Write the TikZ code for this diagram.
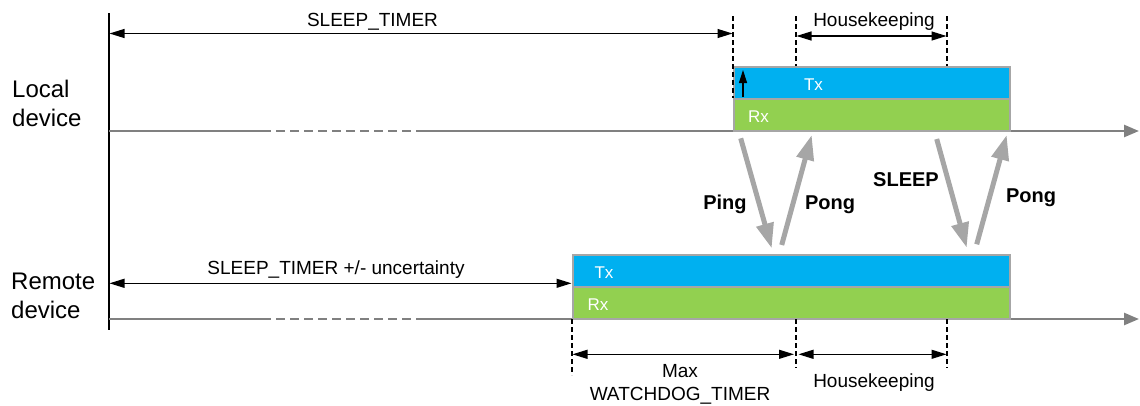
\documentclass[tikz,border=0pt]{standalone}
\usepackage{fontspec}
\setmainfont{Liberation Sans}
\usetikzlibrary{arrows.meta}
\definecolor{txblue}{HTML}{00B0F0}
\definecolor{rxgreen}{HTML}{92D050}
\definecolor{boxgray}{HTML}{A6A6A6}
\definecolor{axisgray}{HTML}{808080}
\definecolor{msggray}{HTML}{A6A6A6}
\begin{document}
\begin{tikzpicture}[x=1pt,y=-1pt,
  dimarrow/.style={black, line width=1.2pt, {Triangle[length=15pt,width=9pt]}-{Triangle[length=15pt,width=9pt]}},
  uparrow/.style={black, line width=1.2pt, -{Triangle[length=13pt,width=8pt]}},
  guide/.style={black, line width=1.6pt, dash pattern=on 5pt off 3pt},
  axisline/.style={axisgray, line width=2.5pt},
  axisdash/.style={axisgray, line width=2.5pt, dash pattern=on 9pt off 5pt},
  axisend/.style={axisgray, line width=2.5pt, -{Triangle[length=15pt,width=12pt]}},
  msg/.style={msggray, line width=5pt, -{Triangle[length=25pt,width=17pt]}},
  lbl/.style={inner sep=0pt, anchor=base, font=\fontsize{19}{22}\selectfont},
  dev/.style={inner sep=0pt, anchor=base west, font=\fontsize{24}{28}\selectfont},
  msglbl/.style={inner sep=0pt, anchor=base, font=\bfseries\fontsize{20}{24}\selectfont},
  boxlbl/.style={inner sep=0pt, anchor=base, text=white, font=\fontsize{17}{20}\selectfont},
  slot/.style={draw=boxgray, line width=1.5pt, anchor=north west, inner sep=0pt, minimum height=32pt}
]
\useasboundingbox (0,0) rectangle (1140,405);

% device labels
\node[dev] (loc1) at (12,97.7) {Local};
\node[dev] (loc2) at (12,126.7) {device};
\node[dev] (rem1) at (11,289.3) {Remote};
\node[dev] (rem2) at (11,318.3) {device};

% vertical reference line
\coordinate (vtop) at (109,13);
\coordinate (vbot) at (109,330);
\draw[black, line width=2pt] (vtop) -- (vbot);

% local axis
\coordinate (la0) at (109,131);
\coordinate (la1) at (262,131);
\coordinate (la2) at (420,131);
\coordinate (la3) at (1139,131);
\draw[axisline] (la0) -- (la1);
\draw[axisdash] (la1) -- (la2);
\draw[axisend] (la2) -- (la3);

% remote axis
\coordinate (ra0) at (109,319);
\coordinate (ra1) at (262,319);
\coordinate (ra2) at (420,319);
\coordinate (ra3) at (1139,319);
\draw[axisline] (ra0) -- (ra1);
\draw[axisdash] (ra1) -- (ra2);
\draw[axisend] (ra2) -- (ra3);

% local boxes
\node[slot, fill=txblue, minimum width=276pt] (ltx) at (733,66) {};
\node[slot, fill=rxgreen, minimum width=276pt] (lrx) at (733,98) {};
\node[boxlbl] (ltxl) at (813.5,90) {Tx};
\node[boxlbl] (lrxl) at (758.5,122.7) {Rx};

% remote boxes
\node[slot, fill=txblue, minimum width=437pt] (rtx) at (572,254) {};
\node[slot, fill=rxgreen, minimum width=437pt] (rrx) at (572,286) {};
\node[boxlbl] (rtxl) at (604,278) {Tx};
\node[boxlbl] (rrxl) at (598,310) {Rx};

% top guides
\coordinate (g1t) at (733,16);
\coordinate (g1b) at (733,98);
\coordinate (g2t) at (796,16);
\coordinate (g2b) at (796,66);
\coordinate (g3t) at (947,16);
\coordinate (g3b) at (947,66);
\draw[guide] (g1t) -- (g1b);
\draw[guide] (g2t) -- (g2b);
\draw[guide] (g3t) -- (g3b);

% small up arrow
\coordinate (ua0) at (743,97);
\coordinate (ua1) at (743,70);
\draw[uparrow] (ua0) -- (ua1);

% top dimension arrows
\coordinate (st0) at (109.5,33.5);
\coordinate (st1) at (732.5,33.5);
\draw[dimarrow] (st0) -- (st1);
\node[lbl] (stl) at (372.5,26) {SLEEP\_TIMER};

\coordinate (hk0) at (796.5,36);
\coordinate (hk1) at (946.5,36);
\draw[dimarrow] (hk0) -- (hk1);
\node[lbl] (hkl) at (874,26) {Housekeeping};

% remote uncertainty arrow
\coordinate (su0) at (109.5,283.3);
\coordinate (su1) at (571.5,283.3);
\draw[dimarrow] (su0) -- (su1);
\node[lbl] (sul) at (336,274.3) {SLEEP\_TIMER +/- uncertainty};

% bottom guides
\coordinate (b1t) at (572,319);
\coordinate (b1b) at (572,375);
\coordinate (b2t) at (796,319);
\coordinate (b2b) at (796,368);
\coordinate (b3t) at (947,319);
\coordinate (b3b) at (947,368);
\draw[guide] (b1t) -- (b1b);
\draw[guide] (b2t) -- (b2b);
\draw[guide] (b3t) -- (b3b);

% bottom dimension arrows
\coordinate (wd0) at (572.5,354.3);
\coordinate (wd1) at (794,354.3);
\draw[dimarrow] (wd0) -- (wd1);
\node[lbl] (wdl1) at (680,377) {Max};
\node[lbl] (wdl2) at (680,400) {WATCHDOG\_TIMER};

\coordinate (bh0) at (798.5,354.3);
\coordinate (bh1) at (946.5,354.3);
\draw[dimarrow] (bh0) -- (bh1);
\node[lbl] (bhl) at (874,387) {Housekeeping};

% messages
\coordinate (m1s) at (740.7,138.3);
\coordinate (m1e) at (771.7,248.3);
\coordinate (m2s) at (781.7,245);
\coordinate (m2e) at (811.7,135);
\coordinate (m3s) at (936.7,139);
\coordinate (m3e) at (966.7,247.7);
\coordinate (m4s) at (976.7,244.3);
\coordinate (m4e) at (1006.7,135);
\draw[msg] (m1s) -- (m1e);
\draw[msg] (m2s) -- (m2e);
\draw[msg] (m3s) -- (m3e);
\draw[msg] (m4s) -- (m4e);
\node[msglbl] (m1l) at (725,209) {Ping};
\node[msglbl] (m2l) at (830,209) {Pong};
\node[msglbl] (m3l) at (906,186) {SLEEP};
\node[msglbl] (m4l) at (1031,202.7) {Pong};
\end{tikzpicture}
\end{document}
